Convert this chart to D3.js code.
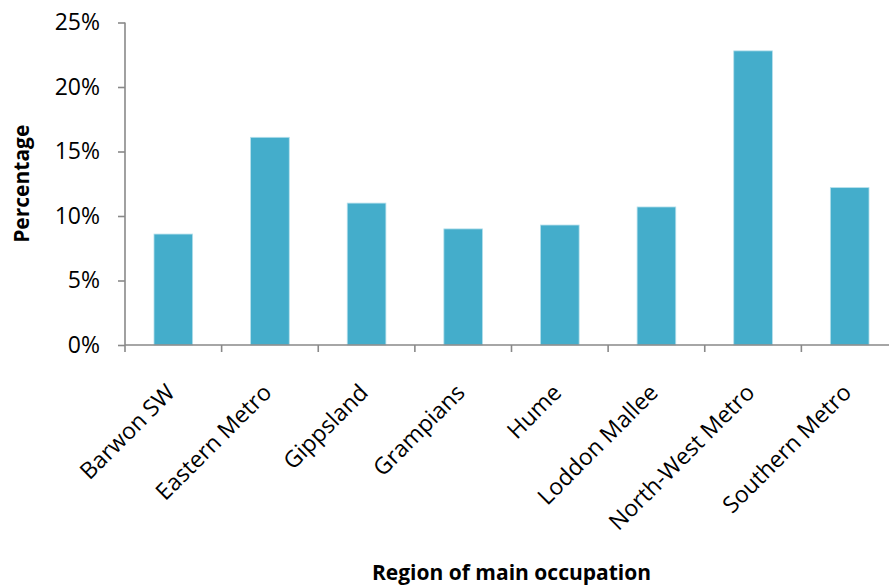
<!DOCTYPE html>
<html>
<head>
<meta charset="utf-8">
<script src="https://cdn.jsdelivr.net/npm/d3@7"></script>
<style>
  html, body { margin: 0; padding: 0; background: #fff; }
  svg { display: block; }
  text { font-family: "Open Sans", "Noto Sans", sans-serif; fill: #000; }
</style>
</head>
<body>
<svg id="chart" width="889" height="587"></svg>
<script>
// Share of people by region of main occupation
const regions = ["Barwon SW", "Eastern Metro", "Gippsland", "Grampians", "Hume",
                 "Loddon Mallee", "North-West Metro", "Southern Metro"];
const percentages = [0.086, 0.161, 0.110, 0.090, 0.093, 0.107, 0.228, 0.122];
const yTicks = [0, 0.05, 0.10, 0.15, 0.20, 0.25];

const svg = d3.select("#chart");
const axisColor = "#898989";

const x = d3.scaleBand()
  .domain(regions)
  .range([125, 898])
  .paddingInner(0.6)
  .paddingOuter(0.3);

const y = d3.scaleLinear()
  .domain([0, 0.25])
  .range([345, 22.5]);

// Bars
svg.append("g")
  .selectAll("rect")
  .data(regions)
  .join("rect")
  .attr("x", d => x(d))
  .attr("y", (d, i) => y(percentages[i]))
  .attr("width", x.bandwidth())
  .attr("height", (d, i) => y(0) - y(percentages[i]))
  .attr("fill", "#44adcb")
  .attr("stroke", "#b4dfeb")
  .attr("stroke-width", 0.8);

// Y axis
const yAxis = svg.append("g")
  .attr("transform", "translate(125,0)")
  .call(d3.axisLeft(y).tickValues(yTicks).tickFormat(d3.format(".0%")).tickSize(7).tickPadding(18));
yAxis.select(".domain").attr("stroke", axisColor).attr("stroke-width", 1.6).attr("d", `M0,${y(0.25)}V${y(0)}`);
yAxis.selectAll(".tick line").attr("stroke", axisColor).attr("stroke-width", 1.6);
yAxis.selectAll(".tick text")
  .style("font-family", '"Open Sans", sans-serif')
  .style("font-size", "23px")
  .attr("fill", "#000");

// X axis: baseline with ticks on the category boundaries
const step = x.step();
const boundaries = regions.map(d => x(d) + x.bandwidth() / 2 - step / 2);
const xAxis = svg.append("g");
xAxis.append("line")
  .attr("x1", 125).attr("x2", 889)
  .attr("y1", y(0)).attr("y2", y(0))
  .attr("stroke", axisColor).attr("stroke-width", 1.6);
xAxis.selectAll("line.tick")
  .data(boundaries)
  .join("line")
  .attr("class", "tick")
  .attr("x1", d => d).attr("x2", d => d)
  .attr("y1", y(0)).attr("y2", y(0) + 7)
  .attr("stroke", axisColor).attr("stroke-width", 1.6);

// Rotated category labels
xAxis.selectAll("text")
  .data(regions)
  .join("text")
  .attr("transform", d => `translate(${x(d) + x.bandwidth() / 2 + 3},${y(0) + 49}) rotate(-45)`)
  .attr("text-anchor", "end")
  .style("font-size", "23px")
  .text(d => d);

// Axis titles
svg.append("text")
  .attr("x", 511.5)
  .attr("y", 580)
  .attr("text-anchor", "middle")
  .style("font-size", "21px")
  .style("font-weight", "bold")
  .text("Region of main occupation");

svg.append("text")
  .attr("transform", `translate(29,${(y(0) + y(0.25)) / 2}) rotate(-90)`)
  .attr("text-anchor", "middle")
  .style("font-size", "21px")
  .style("font-weight", "bold")
  .text("Percentage");
</script>
</body>
</html>
